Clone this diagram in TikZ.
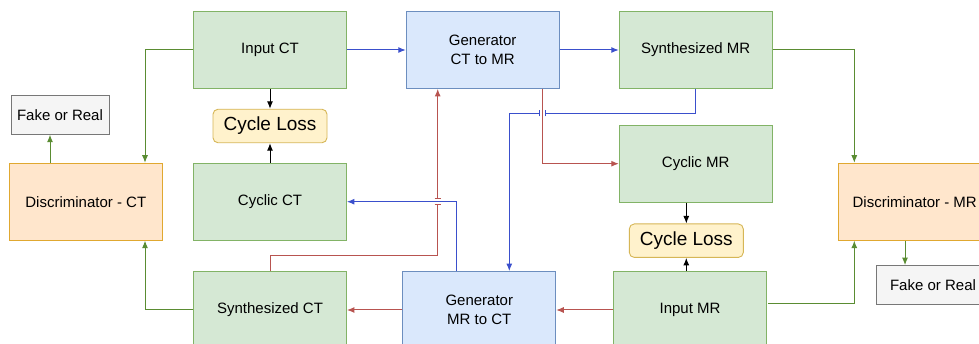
\documentclass[tikz,border=0pt]{standalone}
\usepackage{fontspec}
\setmainfont{Liberation Sans}
\usetikzlibrary{arrows.meta}
\definecolor{gfill}{HTML}{D5E8D4}\definecolor{gdraw}{HTML}{82B366}
\definecolor{bfill}{HTML}{DAE8FC}\definecolor{bdraw}{HTML}{6C8EBF}
\definecolor{ofill}{HTML}{FFE6CC}\definecolor{odraw}{HTML}{E0A830}
\definecolor{yfill}{HTML}{FFF2CC}\definecolor{ydraw}{HTML}{D6B656}
\definecolor{kfill}{HTML}{F5F5F5}\definecolor{kdraw}{HTML}{777777}
\definecolor{lblue}{HTML}{3A4FCC}\definecolor{lred}{HTML}{B85450}
\definecolor{lgreen}{HTML}{5A8C32}
\begin{document}
\begin{tikzpicture}[x=1pt,y=-1pt,
  box/.style={minimum width=153pt,minimum height=77pt,line width=0.9pt,inner sep=2pt,align=center,font=\fontsize{15}{18.4}\selectfont},
  greenbox/.style={box,draw=gdraw,fill=gfill},
  bluebox/.style={box,draw=bdraw,fill=bfill},
  orangebox/.style={box,draw=odraw,fill=ofill},
  lossbox/.style={draw=ydraw,fill=yfill,rounded corners=5pt,minimum width=114pt,minimum height=33.5pt,line width=0.9pt,font=\fontsize{19}{22}\selectfont},
  fakebox/.style={draw=kdraw,fill=kfill,minimum width=98pt,minimum height=38.5pt,line width=0.9pt,font=\fontsize{15}{18}\selectfont},
  conn/.style={line width=1pt},
  tip/.style={-{Latex[length=7.5pt,width=6pt]}},
  bl/.style={conn,lblue},
  rd/.style={conn,lred},
  gr/.style={conn,lgreen},
  bk/.style={conn,black},
]
\useasboundingbox (0,0) rectangle (979,344);
\clip (0,0) rectangle (979,344);
\fill[white] (0,0) rectangle (979,344);

% nodes
\node[greenbox] (InputCT) at (270,50) {Input CT};
\node[lossbox] (LossL) at (270,126) {Cycle Loss};
\node[greenbox] (CyclicCT) at (270,201.7) {Cyclic CT};
\node[greenbox] (SynthCT) at (270,310) {Synthesized CT};
\node[fakebox] (FakeL) at (60,115) {Fake or Real};
\node[orangebox] (DiscCT) at (85.8,201.7) {Discriminator - CT};
\node[bluebox] (GenCM) at (482.7,50) {Generator\\CT to MR};
\node[greenbox] (SynthMR) at (695.7,50) {Synthesized MR};
\node[greenbox] (CyclicMR) at (695.7,163.7) {Cyclic MR};
\node[lossbox] (LossR) at (686.3,240.7) {Cycle Loss};
\node[bluebox] (GenMC) at (479.3,310) {Generator\\MR to CT};
\node[greenbox] (InputMR) at (690,310) {Input MR};
\node[orangebox] (DiscMR) at (914.7,201.7) {Discriminator - MR};
\node[fakebox,minimum width=114pt] (FakeR) at (933,284.8) {Fake or Real};

% coordinates
\coordinate (j1) at (542.3,113.3);
\coordinate (b3) at (509.3,113.3);
\coordinate (r4) at (542.3,163.7);
\coordinate (b9) at (456.7,201.7);
\coordinate (j2) at (437.7,201.7);
\coordinate (r10a) at (270,256);
\coordinate (r10b) at (437.7,256);
\coordinate (gL) at (145,50);
\coordinate (gL2) at (145,310);
\coordinate (fL) at (50,163.3);
\coordinate (gR) at (854.3,50);
\coordinate (gR2) at (854.3,304);
\coordinate (mrout) at (768,304);
\coordinate (fR) at (905,240);

% blue connectors
\draw[bl,tip] (InputCT.east) -- (GenCM.west);
\draw[bl,tip] (GenCM.east) -- (SynthMR.west);

% red connectors
\draw[rd,tip] (GenCM.south -| r4) -- (r4) -- (CyclicMR.west |- r4);
\draw[rd,tip] (InputMR.west) -- (GenMC.east);
\draw[rd,tip] (GenMC.west) -- (SynthCT.east);

% blue path with gap at j1
\draw[bl] (SynthMR.south) |- ([xshift=3pt]j1);
\draw[bl,tip] ([xshift=-3pt]j1) -- (b3) -- (b3 |- GenMC.north);
\draw[bl,line width=0.9pt] ([shift={(3pt,-3pt)}]j1) -- ([shift={(3pt,3pt)}]j1);
\draw[bl,line width=0.9pt] ([shift={(-3pt,-3pt)}]j1) -- ([shift={(-3pt,3pt)}]j1);

% blue GenMC -> CyclicCT
\draw[bl,tip] (GenMC.north -| b9) -- (b9) -- (CyclicCT.east |- b9);

% red SynthCT -> GenCM with gap at j2
\draw[rd] (SynthCT.north) -- (r10a) -- (r10b) -- ([yshift=-3pt]j2);
\draw[rd,tip] ([yshift=3pt]j2) -- (GenCM.south -| j2);
\draw[rd,line width=0.9pt] ([shift={(-3pt,-3pt)}]j2) -- ([shift={(3pt,-3pt)}]j2);
\draw[rd,line width=0.9pt] ([shift={(-3pt,3pt)}]j2) -- ([shift={(3pt,3pt)}]j2);

% black cycle loss
\draw[bk,tip] (InputCT.south) -- (LossL.north);
\draw[bk,tip] (CyclicCT.north) -- (LossL.south);
\draw[bk,tip] (LossR.north |- CyclicMR.south) -- (LossR.north);
\draw[bk,tip] (LossR.south |- InputMR.north) -- (LossR.south);

% green connectors
\draw[gr,tip] (InputCT.west) -- (gL) -- (gL |- DiscCT.north);
\draw[gr,tip] (SynthCT.west) -- (gL2) -- (gL2 |- DiscCT.south);
\draw[gr,tip] (fL |- DiscCT.north) -- (fL |- FakeL.south);
\draw[gr,tip] (SynthMR.east) -- (gR) -- (gR |- DiscMR.north);
\draw[gr,tip] (mrout) -- (gR2) -- (gR2 |- DiscMR.south);
\draw[gr,tip] (fR |- DiscMR.south) -- (fR |- FakeR.north);
\end{tikzpicture}
\end{document}
